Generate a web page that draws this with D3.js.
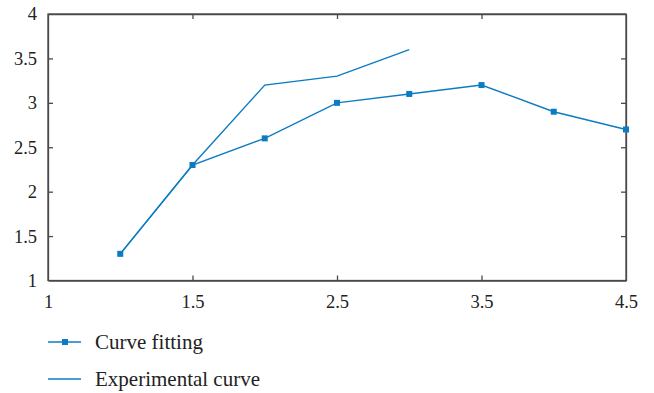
<!DOCTYPE html>
<html><head><meta charset="utf-8">
<script src="https://cdn.jsdelivr.net/npm/d3@7/dist/d3.min.js"></script>
<style>body{margin:0;background:#fff}svg{display:block}</style>
</head><body>
<script>
// x positions are point indices along the axis; tick labels as printed
const xTickPositions = [0, 2, 4, 6, 8];
const xTickLabels = ["1", "1.5", "2.5", "3.5", "4.5"];
const yTicks = [1, 1.5, 2, 2.5, 3, 3.5, 4];
const fitX = [1, 2, 3, 4, 5, 6, 7, 8];
const fitY = [1.3, 2.3, 2.6, 3.0, 3.1, 3.2, 2.9, 2.7];
const expX = [1, 2, 3, 4, 5];
const expY = [1.3, 2.3, 3.2, 3.3, 3.6];
const seriesNames = ["Curve fitting", "Experimental curve"];

(function () {
const W = 654, H = 393;
const color = "#0b7cc2", axisColor = "#4a4a4a";
const m = {left: 48, right: 28, top: 14, bottom: 112.5};
const svg = d3.select("body").append("svg").attr("width", W).attr("height", H);
const x = d3.scaleLinear().domain([0, 8]).range([m.left, W - m.right]);
const y = d3.scaleLinear().domain([1, 4]).range([H - m.bottom, m.top]);
const font = "'Liberation Serif', 'Times New Roman', serif";

const g = svg.append("g");
g.append("rect").attr("x", x(0)).attr("y", y(4)).attr("width", x(8) - x(0)).attr("height", y(1) - y(4))
  .attr("fill", "none").attr("stroke", axisColor).attr("stroke-width", 1.3);

const fmtX = d => xTickLabels[xTickPositions.indexOf(d)];
const axB = g.append("g").attr("transform", `translate(0,${y(1)})`)
  .call(d3.axisBottom(x).tickValues(xTickPositions).tickFormat(fmtX).tickSizeInner(-5).tickSizeOuter(0).tickPadding(14));
const axT = g.append("g").attr("transform", `translate(0,${y(4)})`)
  .call(d3.axisTop(x).tickValues(xTickPositions).tickFormat("").tickSizeInner(-5).tickSizeOuter(0));
const axL = g.append("g").attr("transform", `translate(${x(0)},0)`)
  .call(d3.axisLeft(y).tickValues(yTicks).tickFormat(d => String(d)).tickSizeInner(-5).tickSizeOuter(0).tickPadding(11));
const axR = g.append("g").attr("transform", `translate(${x(8)},0)`)
  .call(d3.axisRight(y).tickValues(yTicks).tickFormat("").tickSizeInner(-5).tickSizeOuter(0));
[axB, axT, axL, axR].forEach(a => {
  a.attr("font-family", font);
  a.select(".domain").attr("stroke", axisColor).attr("stroke-width", 1.3);
  a.selectAll(".tick line").attr("stroke", axisColor).attr("stroke-width", 1.3);
  a.selectAll(".tick text").attr("font-family", font).attr("font-size", 18.5).attr("fill", "#222");
});
axB.selectAll(".tick").filter(d => d === 0 || d === 8).select("line").remove();
axT.selectAll(".tick").filter(d => d === 0 || d === 8).select("line").remove();
axL.selectAll(".tick").filter(d => d === 1 || d === 4).select("line").remove();
axR.selectAll(".tick").filter(d => d === 1 || d === 4).select("line").remove();

const line = d3.line().x(d => x(d[0])).y(d => y(d[1]));
const fit = fitX.map((v, i) => [v, fitY[i]]);
const exp = expX.map((v, i) => [v, expY[i]]);
g.append("path").datum(exp).attr("d", line).attr("fill", "none").attr("stroke", color).attr("stroke-width", 1.4);
g.append("path").datum(fit).attr("d", line).attr("fill", "none").attr("stroke", color).attr("stroke-width", 1.4);
g.selectAll("rect.mk").data(fit).enter().append("rect").attr("class", "mk")
  .attr("x", d => x(d[0]) - 3).attr("y", d => y(d[1]) - 3).attr("width", 6).attr("height", 6).attr("fill", color);

const leg = svg.append("g");
const legY = [342, 379];
seriesNames.forEach((name, i) => {
  const row = leg.append("g").attr("transform", `translate(0,${legY[i]})`);
  row.append("line").attr("x1", 48).attr("x2", 81).attr("y1", 0).attr("y2", 0).attr("stroke", color).attr("stroke-width", 1.4);
  if (i === 0) row.append("rect").attr("x", 62).attr("y", -3).attr("width", 6).attr("height", 6).attr("fill", color);
  row.append("text").attr("x", 95).attr("y", 7).attr("font-family", font).attr("font-size", 21).attr("fill", "#222").text(name);
});
})();
</script>
</body></html>
